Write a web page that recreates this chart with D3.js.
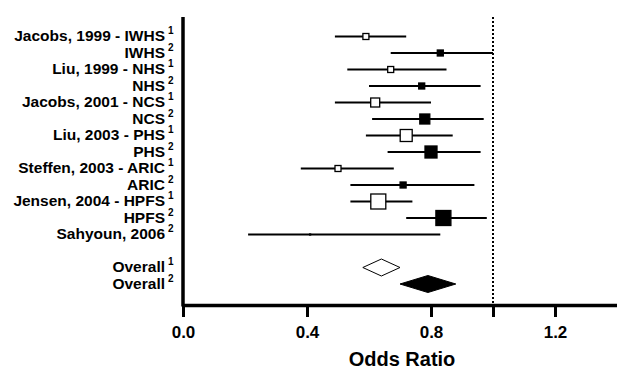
<!DOCTYPE html>
<html>
<head>
<meta charset="utf-8">
<script src="https://cdn.jsdelivr.net/npm/d3@7"></script>
<style>
  body { margin: 0; background: #fff; }
  text { font-family: "Liberation Sans", Arial, sans-serif; font-weight: bold; }
</style>
</head>
<body>
<svg id="pic" width="617" height="370"></svg>
<script>
// studies
var labels = ["Jacobs, 1999 - IWHS", "IWHS", "Liu, 1999 - NHS", "NHS",
  "Jacobs, 2001 - NCS", "NCS", "Liu, 2003 - PHS", "PHS",
  "Steffen, 2003 - ARIC", "ARIC", "Jensen, 2004 - HPFS", "HPFS", "Sahyoun, 2006"];
var sups = [1, 2, 1, 2, 1, 2, 1, 2, 1, 2, 1, 2, 2];
var oddsRatio = [0.59, 0.83, 0.67, 0.77, 0.62, 0.78, 0.72, 0.80, 0.50, 0.71, 0.63, 0.84, 0.41];
var lower = [0.49, 0.67, 0.53, 0.60, 0.49, 0.61, 0.59, 0.66, 0.38, 0.54, 0.54, 0.72, 0.21];
var upper = [0.72, 1.00, 0.85, 0.96, 0.80, 0.97, 0.87, 0.96, 0.68, 0.94, 0.74, 0.98, 0.83];
var weight = [3.6, 3.6, 3.6, 3.6, 8.1, 10, 14.4, 14.4, 3.6, 3.6, 22.5, 22.5, 0.1];

// pooled
var overallLabels = ["Overall", "Overall"];
var overallSups = [1, 2];
var overallOR = [0.64, 0.79];
var overallLower = [0.58, 0.70];
var overallUpper = [0.70, 0.88];

var xTicks = [0, 0.4, 0.8, 1.0, 1.2];
var xTickLabels = ["0.0", "0.4", "0.8", "", "1.2"];

var svg = d3.select("#pic");

var studies = labels.map(function(d, i){
  return {key: "s" + i, label: d, sup: sups[i], or: oddsRatio[i], lo: lower[i], hi: upper[i], w: weight[i]};
});
var overall = overallLabels.map(function(d, i){
  return {key: "o" + i, label: d, sup: overallSups[i], or: overallOR[i], lo: overallLower[i], hi: overallUpper[i]};
});
var rows = studies.map(function(d){return d.key;}).concat(["gap"], overall.map(function(d){return d.key;}));

var x = d3.scaleLinear().domain([0, 1.4]).range([183, 617]);
var y = d3.scalePoint().domain(rows).range([36.5, 284]);
var side = d3.scaleSqrt().domain([0, 22.5]).range([0, 15]);
var axisY = 305;

// reference line at OR = 1
svg.append("line")
  .attr("x1", x(1)).attr("x2", x(1))
  .attr("y1", 17).attr("y2", axisY)
  .attr("stroke", "#000").attr("stroke-width", 2)
  .attr("stroke-dasharray", "2,2");

// confidence intervals
svg.selectAll(".ci").data(studies).enter().append("line")
  .attr("x1", function(d){return x(d.lo);})
  .attr("x2", function(d){return x(d.hi);})
  .attr("y1", function(d){return y(d.key);})
  .attr("y2", function(d){return y(d.key);})
  .attr("stroke", "#000").attr("stroke-width", 2.2);

// point estimates
svg.selectAll(".pt").data(studies).enter().append("rect")
  .attr("x", function(d){return x(d.or) - side(d.w) / 2;})
  .attr("y", function(d){return y(d.key) - side(d.w) / 2;})
  .attr("width", function(d){return side(d.w);})
  .attr("height", function(d){return side(d.w);})
  .attr("fill", function(d){return d.sup == 1 ? "#fff" : "#000";})
  .attr("stroke", "#000").attr("stroke-width", 1.3);

// pooled diamonds
svg.selectAll(".dia").data(overall).enter().append("path")
  .attr("d", function(d){
    var cy = y(d.key);
    return "M" + x(d.lo) + "," + cy + "L" + x(d.or) + "," + (cy - 8.5) +
      "L" + x(d.hi) + "," + cy + "L" + x(d.or) + "," + (cy + 8.5) + "Z";
  })
  .attr("fill", function(d){return d.sup == 1 ? "#fff" : "#000";})
  .attr("stroke", "#000").attr("stroke-width", 1);

// row labels
var all = studies.concat(overall);
svg.selectAll(".lab").data(all).enter().append("text")
  .attr("x", 165).attr("y", function(d){return y(d.key) + 4.5;})
  .attr("text-anchor", "end").attr("font-size", 15.5)
  .text(function(d){return d.label;});
svg.selectAll(".sup").data(all).enter().append("text")
  .attr("x", 168).attr("y", function(d){return y(d.key) - 2.5;})
  .attr("font-size", 10)
  .text(function(d){return d.sup;});

// axes
var xAxis = d3.axisBottom(x).tickValues(xTicks)
  .tickFormat(function(d, i){return xTickLabels[i];})
  .tickSize(12).tickSizeOuter(0).tickPadding(9);
var gx = svg.append("g").attr("transform", "translate(0," + axisY + ")").call(xAxis);
gx.select(".domain").attr("stroke-width", 3.5);
gx.selectAll(".tick line").attr("stroke-width", 3);
gx.selectAll(".tick text").attr("font-size", 17).attr("fill", "#000")
  .attr("font-family", "Liberation Sans, Arial, sans-serif");

svg.append("line")
  .attr("x1", x(0)).attr("x2", x(0))
  .attr("y1", 17).attr("y2", axisY + 1.5)
  .attr("stroke", "#000").attr("stroke-width", 3.5);

svg.append("text")
  .attr("x", 402).attr("y", 366)
  .attr("text-anchor", "middle").attr("font-size", 20)
  .text("Odds Ratio");
</script>
</body>
</html>
